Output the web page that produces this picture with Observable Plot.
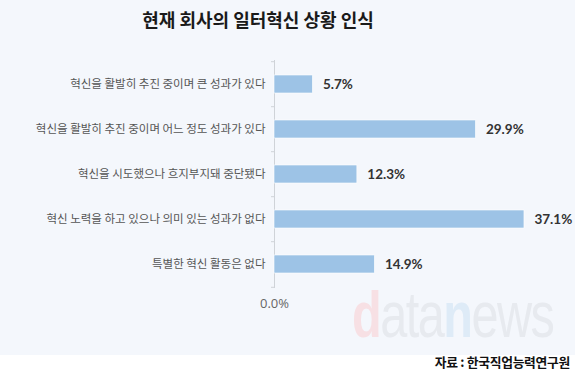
<!DOCTYPE html>
<html>
<head>
<meta charset="utf-8">
<script src="https://cdn.jsdelivr.net/npm/d3@7"></script>
<script src="https://cdn.jsdelivr.net/npm/@observablehq/plot@0.6"></script>
<style>
  html, body { margin: 0; padding: 0; background: #ffffff; }
  #wrap { position: relative; width: 580px; height: 380px; overflow: hidden; font-family: "Noto Sans CJK KR", sans-serif; }
  #bg { position: absolute; left: 0; top: 0; width: 575px; height: 355px; background: #f4f7fc; }
  #title { position: absolute; left: 0; width: 516px; top: 6px; text-align: center; font-size: 18px; font-weight: 700; color: #1a1a1a; }
  #chart { position: absolute; left: 0; top: 50px; }
  #wm { position: absolute; left: 352px; top: 283px; font-family: "Liberation Sans", Arial, sans-serif; font-size: 64px; letter-spacing: -2px; color: #e7eaef; line-height: 1; white-space: nowrap; transform: scaleX(0.76); transform-origin: 0 0; }
  #wm .d { color: #f7e0e4; font-weight: 700; }
  #wm .n { color: #deebf7; font-weight: 700; }
  #src { position: absolute; right: 10px; top: 352px; font-size: 12.8px; font-weight: 700; color: #111; letter-spacing: -0.3px; }
</style>
</head>
<body>
<div id="wrap">
  <div id="bg"></div>
  <div id="wm"><span class="d">d</span>ata<span class="n">n</span>ews</div>
  <div id="title"></div>
  <div id="chart"></div>
  <div id="src"></div>
</div>
<script>
const titleText = "현재 회사의 일터혁신 상황 인식";
const sourceText = "자료 : 한국직업능력연구원";
const categories = [
  "혁신을 활발히 추진 중이며 큰 성과가 있다",
  "혁신을 활발히 추진 중이며 어느 정도 성과가 있다",
  "혁신을 시도했으나 흐지부지돼 중단됐다",
  "혁신 노력을 하고 있으나 의미 있는 성과가 없다",
  "특별한 혁신 활동은 없다"
];
const values = [5.7, 29.9, 12.3, 37.1, 14.9];
const xTicks = [0];
const xTickLabels = ["0.0%"];

document.getElementById("title").textContent = titleText;
document.getElementById("src").textContent = sourceText;

const data = categories.map((c, i) => ({category: c, value: values[i]}));

const chart = Plot.plot({
  width: 575,
  height: 270,
  marginTop: 10,
  marginBottom: 32,
  marginLeft: 274,
  marginRight: 31.5,
  style: {background: "transparent", fontFamily: "'Noto Sans CJK KR', sans-serif"},
  x: {domain: [0, 40], label: null},
  y: {domain: categories, paddingInner: 0.6, paddingOuter: 0.3, label: null},
  marks: [
    Plot.ruleX([0], {stroke: "#cfd3d8", strokeWidth: 1}),
    Plot.ruleY(categories, {y: d => d, x1: 0, x2: 0, insetLeft: -3, dy: -22.8, stroke: "#cfd3d8"}),
    Plot.ruleY(categories.slice(-1), {y: d => d, x1: 0, x2: 0, insetLeft: -3, dy: 22.8, stroke: "#cfd3d8"}),
    Plot.barX(data, {y: "category", x: "value", fill: "#9dc3e6", stroke: "#ffffff", strokeWidth: 0.6}),
    Plot.text(data, {y: "category", x: "value", text: d => d.value.toFixed(1) + "%", textAnchor: "start", dx: 10, fontSize: 13.5, fontWeight: 700, fill: "#333333", fontFamily: "Lato, sans-serif"}),
    Plot.axisY({tickSize: 0, tickPadding: 9, fontSize: 11.5, color: "#555555", label: null}),
    Plot.axisX({ticks: xTicks, tickFormat: (d) => xTickLabels[xTicks.indexOf(d)], tickSize: 0, tickPadding: 10, fontSize: 13, color: "#666666", fontFamily: "'Open Sans', sans-serif", label: null})
  ]
});
document.getElementById("chart").appendChild(chart);
</script>
</body>
</html>
